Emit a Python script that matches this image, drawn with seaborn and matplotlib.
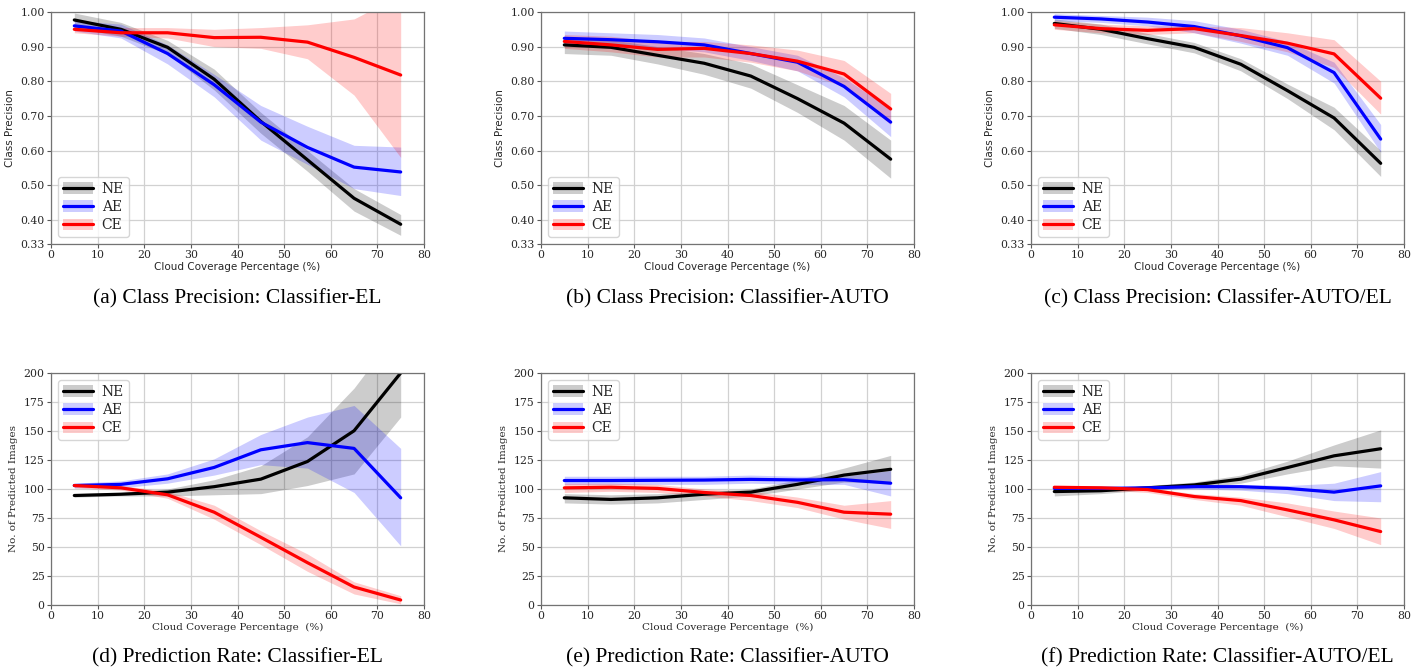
import numpy as np
import pandas as pd
import matplotlib
matplotlib.use("Agg")
import matplotlib.pyplot as plt
from matplotlib.patches import Patch
from matplotlib.lines import Line2D
import seaborn as sns

# Cloud coverage bins (%)
coverage = [5, 15, 25, 35, 45, 55, 65, 75]
classes = ["NE", "AE", "CE"]
colors = {"NE": "black", "AE": "blue", "CE": "red"}

# ---- Class precision: mean, upper, lower per class ----
prec_el_ne = [0.977, 0.950, 0.898, 0.806, 0.684, 0.573, 0.462, 0.387]
prec_el_ne_hi = [0.997, 0.970, 0.918, 0.835, 0.710, 0.600, 0.490, 0.415]
prec_el_ne_lo = [0.955, 0.930, 0.878, 0.775, 0.650, 0.540, 0.425, 0.355]
prec_el_ae = [0.960, 0.945, 0.880, 0.790, 0.682, 0.609, 0.552, 0.538]
prec_el_ae_hi = [0.975, 0.965, 0.905, 0.820, 0.730, 0.670, 0.615, 0.610]
prec_el_ae_lo = [0.945, 0.925, 0.850, 0.755, 0.630, 0.560, 0.490, 0.470]
prec_el_ce = [0.950, 0.940, 0.940, 0.926, 0.927, 0.913, 0.869, 0.818]
prec_el_ce_hi = [0.960, 0.955, 0.955, 0.950, 0.955, 0.963, 0.980, 1.050]
prec_el_ce_lo = [0.940, 0.930, 0.925, 0.900, 0.895, 0.865, 0.760, 0.580]

prec_auto_ne = [0.905, 0.898, 0.875, 0.852, 0.815, 0.750, 0.679, 0.575]
prec_auto_ne_hi = [0.925, 0.920, 0.900, 0.880, 0.850, 0.790, 0.730, 0.630]
prec_auto_ne_lo = [0.880, 0.875, 0.850, 0.820, 0.780, 0.710, 0.630, 0.520]
prec_auto_ae = [0.924, 0.920, 0.914, 0.905, 0.880, 0.855, 0.785, 0.682]
prec_auto_ae_hi = [0.945, 0.940, 0.935, 0.925, 0.900, 0.875, 0.810, 0.720]
prec_auto_ae_lo = [0.905, 0.900, 0.895, 0.885, 0.860, 0.830, 0.755, 0.640]
prec_auto_ce = [0.915, 0.905, 0.892, 0.895, 0.880, 0.858, 0.821, 0.720]
prec_auto_ce_hi = [0.935, 0.930, 0.915, 0.915, 0.905, 0.890, 0.860, 0.765]
prec_auto_ce_lo = [0.895, 0.885, 0.870, 0.870, 0.855, 0.830, 0.785, 0.675]

prec_ael_ne = [0.967, 0.950, 0.923, 0.898, 0.849, 0.773, 0.694, 0.563]
prec_ael_ne_hi = [0.980, 0.965, 0.938, 0.912, 0.865, 0.792, 0.725, 0.600]
prec_ael_ne_lo = [0.953, 0.935, 0.908, 0.882, 0.830, 0.750, 0.660, 0.525]
prec_ael_ae = [0.985, 0.980, 0.971, 0.958, 0.931, 0.897, 0.825, 0.633]
prec_ael_ae_hi = [0.995, 0.990, 0.985, 0.975, 0.950, 0.915, 0.855, 0.675]
prec_ael_ae_lo = [0.975, 0.970, 0.960, 0.940, 0.910, 0.875, 0.795, 0.595]
prec_ael_ce = [0.963, 0.952, 0.947, 0.952, 0.932, 0.910, 0.879, 0.751]
prec_ael_ce_hi = [0.975, 0.965, 0.960, 0.960, 0.955, 0.940, 0.920, 0.800]
prec_ael_ce_lo = [0.950, 0.940, 0.935, 0.940, 0.915, 0.885, 0.840, 0.705]

# ---- Number of predicted images: mean, upper, lower per class ----
rate_el_ne = [94.4, 95.5, 97.3, 102.0, 108.5, 123.7, 150.2, 200.0]
rate_el_ne_hi = [96, 97, 100, 108, 120, 145, 187, 240]
rate_el_ne_lo = [93, 94, 94, 95, 96, 103, 113, 162]
rate_el_ae = [103.0, 104.0, 108.8, 118.6, 133.8, 140.0, 135.0, 92.4]
rate_el_ae_hi = [105, 107, 113, 126, 147, 162, 172, 135]
rate_el_ae_lo = [101, 101, 105, 112, 121, 118, 97, 51]
rate_el_ce = [103.0, 101.0, 95.0, 80.0, 58.4, 36.5, 15.5, 4.3]
rate_el_ce_hi = [104, 103, 98, 86, 64, 44, 20, 8]
rate_el_ce_lo = [101, 99, 92, 74, 52, 29, 9.5, 1]

rate_auto_ne = [92.4, 91.0, 92.4, 95.5, 97.3, 104.0, 112.0, 117.0]
rate_auto_ne_hi = [96, 95, 96, 98, 100, 108, 118, 129]
rate_auto_ne_lo = [88, 87, 88, 91, 94, 100, 106, 105]
rate_auto_ae = [107.3, 107.3, 107.5, 107.7, 108.3, 107.8, 108.0, 105.0]
rate_auto_ae_hi = [111, 111, 111, 111, 112, 111, 111, 116]
rate_auto_ae_lo = [104, 104, 104, 104, 105, 104, 104, 94]
rate_auto_ce = [101.0, 101.5, 100.5, 97.0, 94.4, 88.5, 80.0, 78.3]
rate_auto_ce_hi = [105, 105, 104, 100, 98, 93, 86, 90]
rate_auto_ce_lo = [97, 98, 97, 94, 90, 84, 74, 66]

rate_ael_ne = [97.8, 98.5, 101.0, 103.5, 108.5, 118.5, 128.6, 134.7]
rate_ael_ne_hi = [101, 101, 103, 106, 112, 124, 138, 151]
rate_ael_ne_lo = [94, 96, 99, 101, 105, 113, 120, 118]
rate_ael_ae = [100.5, 100.5, 101.0, 102.0, 102.0, 100.5, 97.3, 102.7]
rate_ael_ae_hi = [103, 102, 102, 104, 104, 103, 105, 115]
rate_ael_ae_lo = [98, 99, 100, 100, 99, 96, 90, 89]
rate_ael_ce = [101.5, 101.0, 99.5, 93.5, 90.0, 82.0, 73.4, 63.3]
rate_ael_ce_hi = [103, 103, 101, 96, 93, 88, 81, 75]
rate_ael_ce_lo = [99, 99, 97, 91, 86, 76, 66, 52]

captions = [
    "(a) Class Precision: Classifier-EL",
    "(b) Class Precision: Classifier-AUTO",
    "(c) Class Precision: Classifer-AUTO/EL",
    "(d) Prediction Rate: Classifier-EL",
    "(e) Prediction Rate: Classifier-AUTO",
    "(f) Prediction Rate: Classifier-AUTO/EL",
]

prec_ticks = [0.33, 0.40, 0.50, 0.60, 0.70, 0.80, 0.90, 1.00]
rate_ticks = [0, 25, 50, 75, 100, 125, 150, 175, 200]
x_ticks = [0, 10, 20, 30, 40, 50, 60, 70, 80]

panels = [
    {"NE": (prec_el_ne, prec_el_ne_lo, prec_el_ne_hi),
     "AE": (prec_el_ae, prec_el_ae_lo, prec_el_ae_hi),
     "CE": (prec_el_ce, prec_el_ce_lo, prec_el_ce_hi)},
    {"NE": (prec_auto_ne, prec_auto_ne_lo, prec_auto_ne_hi),
     "AE": (prec_auto_ae, prec_auto_ae_lo, prec_auto_ae_hi),
     "CE": (prec_auto_ce, prec_auto_ce_lo, prec_auto_ce_hi)},
    {"NE": (prec_ael_ne, prec_ael_ne_lo, prec_ael_ne_hi),
     "AE": (prec_ael_ae, prec_ael_ae_lo, prec_ael_ae_hi),
     "CE": (prec_ael_ce, prec_ael_ce_lo, prec_ael_ce_hi)},
    {"NE": (rate_el_ne, rate_el_ne_lo, rate_el_ne_hi),
     "AE": (rate_el_ae, rate_el_ae_lo, rate_el_ae_hi),
     "CE": (rate_el_ce, rate_el_ce_lo, rate_el_ce_hi)},
    {"NE": (rate_auto_ne, rate_auto_ne_lo, rate_auto_ne_hi),
     "AE": (rate_auto_ae, rate_auto_ae_lo, rate_auto_ae_hi),
     "CE": (rate_auto_ce, rate_auto_ce_lo, rate_auto_ce_hi)},
    {"NE": (rate_ael_ne, rate_ael_ne_lo, rate_ael_ne_hi),
     "AE": (rate_ael_ae, rate_ael_ae_lo, rate_ael_ae_hi),
     "CE": (rate_ael_ce, rate_ael_ce_lo, rate_ael_ce_hi)},
]

sns.set_theme(style="whitegrid")
plt.rcParams.update({
    "axes.edgecolor": "0.45",
    "axes.linewidth": 0.9,
    "grid.color": "0.82",
    "grid.linewidth": 0.9,
    "xtick.bottom": True,
    "ytick.left": True,
    "xtick.major.size": 3,
    "ytick.major.size": 3,
    "xtick.major.width": 0.8,
    "ytick.major.width": 0.8,
    "xtick.color": "0.35",
    "ytick.color": "0.35",
    "xtick.labelcolor": "0.15",
    "ytick.labelcolor": "0.15",
    "xtick.major.pad": 1.5,
    "ytick.major.pad": 1.5,
})

fig = plt.figure(figsize=(14.22, 6.70), dpi=100)
lefts = [51 / 1422, 541 / 1422, 1031 / 1422]
width = 373 / 1422
height = 232 / 670
bottoms = [1 - 244 / 670, 1 - 605 / 670]
caption_y = [1 - 299 / 670, 1 - 658 / 670]

serif = "DejaVu Serif"
caption_font = "Liberation Serif"

for i, data in enumerate(panels):
    row, col = divmod(i, 3)
    ax = fig.add_axes([lefts[col], bottoms[row], width, height])

    frames = []
    for c in classes:
        mean, lo, hi = data[c]
        frames.append(pd.DataFrame({"coverage": coverage, "value": mean, "cls": c}))
        ax.fill_between(coverage, lo, hi, color=colors[c], alpha=0.2, linewidth=0)
    df = pd.concat(frames, ignore_index=True)
    sns.lineplot(data=df, x="coverage", y="value", hue="cls", palette=colors,
                 linewidth=2.3, ax=ax, legend=False, errorbar=None)

    ax.set_xlim(0, 80)
    ax.set_xticks(x_ticks)
    if row == 0:
        ax.set_ylim(0.33, 1.00)
        ax.set_yticks(prec_ticks)
        ax.set_yticklabels([f"{t:.2f}" for t in prec_ticks])
        ax.set_ylabel("Class Precision", fontsize=7.5, family="DejaVu Sans", labelpad=4)
        ax.set_xlabel("Cloud Coverage Percentage (%)", fontsize=7.5, family="DejaVu Sans", labelpad=1)
        loc = "lower left"
    else:
        ax.set_ylim(0, 200)
        ax.set_yticks(rate_ticks)
        ax.set_yticklabels([str(t) for t in rate_ticks])
        ax.set_ylabel("No. of Predicted Images", fontsize=7.5, family=serif, labelpad=4)
        ax.set_xlabel("Cloud Coverage Percentage  (%)", fontsize=7.5, family=serif, labelpad=1)
        loc = "upper left"
    ax.set_xticklabels([str(t) for t in x_ticks])
    for lab in ax.get_xticklabels() + ax.get_yticklabels():
        lab.set_family(serif)
        lab.set_fontsize(7.8)

    handles = [(Patch(facecolor=colors[c], alpha=0.2, linewidth=0),
                Line2D([], [], color=colors[c], linewidth=2.3)) for c in classes]
    ax.legend(handles, classes, loc=loc, prop={"family": serif, "size": 10},
              frameon=True, fancybox=True, framealpha=0.8, edgecolor="0.8",
              handlelength=2.2, handleheight=0.9, labelspacing=0.3,
              borderpad=0.35, handletextpad=0.6)

    fig.text(lefts[col] + width / 2, caption_y[row], captions[i], ha="center", va="center",
             fontsize=15.5, family=caption_font, color="black")

fig.savefig("out.png", dpi=100, facecolor="white")
